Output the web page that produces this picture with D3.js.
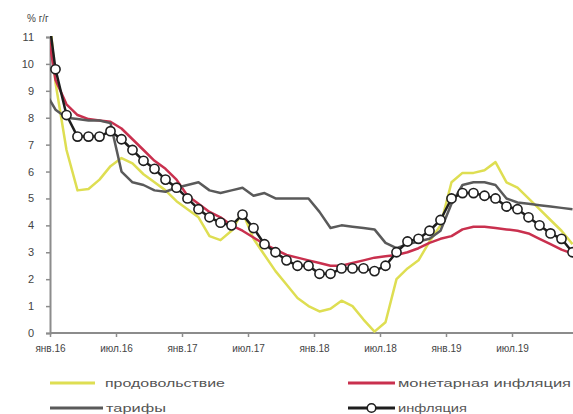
<!DOCTYPE html>
<html><head><meta charset="utf-8">
<script src="https://cdn.jsdelivr.net/npm/d3@7/dist/d3.min.js"></script>
<style>
html,body{margin:0;padding:0;background:#fff;}
svg{display:block;font-family:Arial,"Liberation Sans",sans-serif;}
</style></head>
<body>
<svg id="chart" width="573" height="414"></svg>
<script>
// Months: дек.15 .. дек.19 (first point lies left of the plot and is clipped)
const months = [];
(function(){const n=["янв","фев","мар","апр","май","июн","июл","авг","сен","окт","ноя","дек"];
months.push("дек.15");
for(let y=16;y<=19;y++) for(let m=0;m<12;m++) months.push(n[m]+"."+y);})();

const tickLabels = ["янв.16","июл.16","янв.17","июл.17","янв.18","июл.18","янв.19","июл.19"];
const yTicks = [0,1,2,3,4,5,6,7,8,9,10,11];

const food = [14.0,
 9.3,6.8,5.3,5.35,5.7,6.2,6.5,6.3,5.9,5.6,5.3,4.9,
 4.6,4.3,3.6,3.45,3.8,4.5,3.5,2.9,2.3,1.8,1.3,1.0,
 0.8,0.9,1.2,1.0,0.5,0.05,0.4,2.0,2.4,2.7,3.4,4.0,
 5.6,5.95,5.95,6.05,6.35,5.6,5.4,5.0,4.6,4.2,3.8,3.3];
const monetary = [12.0,
 9.4,8.5,8.1,7.95,7.9,7.85,7.6,7.2,6.8,6.4,6.1,5.7,
 5.1,4.8,4.5,4.3,4.0,3.8,3.55,3.3,3.1,2.9,2.8,2.7,
 2.6,2.5,2.5,2.6,2.7,2.8,2.85,2.9,3.0,3.15,3.35,3.5,
 3.6,3.85,3.95,3.95,3.9,3.85,3.8,3.7,3.5,3.3,3.1,2.95];
const tariffs = [9.0,
 8.3,8.0,7.95,7.9,7.9,7.8,6.0,5.6,5.5,5.3,5.25,5.4,
 5.5,5.6,5.3,5.2,5.3,5.4,5.1,5.2,5.0,5.0,5.0,5.0,
 4.5,3.9,4.0,3.95,3.9,3.85,3.35,3.15,3.3,3.4,3.5,3.8,
 4.8,5.5,5.6,5.6,5.5,5.0,4.85,4.8,4.75,4.7,4.65,4.6];
const inflation = [12.9,
 9.8,8.1,7.3,7.3,7.3,7.5,7.2,6.8,6.4,6.1,5.7,5.4,
 5.0,4.6,4.3,4.1,4.0,4.4,3.9,3.3,3.0,2.7,2.5,2.5,
 2.2,2.2,2.4,2.4,2.4,2.3,2.5,3.0,3.4,3.5,3.8,4.2,
 5.0,5.2,5.2,5.1,5.0,4.7,4.6,4.3,4.0,3.7,3.5,3.0];

const seriesNames = ["продовольствие","монетарная инфляция","тарифы","инфляция"];
const colors = {food:"#dede52", monetary:"#c9304e", tariffs:"#5a5a5a", inflation:"#1e1e1e"};

const svg = d3.select("#chart");
const plot = {left:50, right:573, top:37, bottom:333};

// month index: дек.15 = -1, янв.16 = 0 ... ; points at mid-month
const x = d3.scaleLinear().domain([0,48]).range([plot.left, plot.left+48*11]);
const y = d3.scaleLinear().domain([0,11]).range([plot.bottom, plot.top]);
const xi = i => x(i - 1 + 0.5);

svg.append("defs").append("clipPath").attr("id","clip")
  .append("rect").attr("x",plot.left).attr("y",plot.top-1)
  .attr("width",plot.right-plot.left).attr("height",plot.bottom-plot.top+1);

// Axes
const yAxis = d3.axisLeft(y).tickValues(yTicks).tickSize(4).tickPadding(12);
const gy = svg.append("g").attr("transform",`translate(${plot.left},0)`).call(yAxis);
gy.select(".domain").attr("stroke","#8c8c8c").attr("stroke-width",2);
gy.selectAll(".tick line").attr("stroke","#8c8c8c").attr("stroke-width",1.5);
gy.selectAll(".tick text").attr("font-size",11).attr("fill","#444").attr("font-family","Arial, sans-serif");

const xAxis = d3.axisBottom(x).tickValues(d3.range(0,48,6))
  .tickFormat((d,i)=>tickLabels[i]).tickSize(4).tickSizeOuter(0).tickPadding(8);
const gx = svg.append("g").attr("transform",`translate(0,${plot.bottom})`).call(xAxis);
gx.select(".domain").attr("stroke","#8c8c8c").attr("stroke-width",2)
  .attr("d",`M${plot.left},0H${plot.right}`);
gx.selectAll(".tick line").attr("stroke","#8c8c8c").attr("stroke-width",1.5);
gx.selectAll(".tick text").attr("font-size",10).attr("fill","#444").attr("font-family","Arial, sans-serif");

svg.append("text").attr("x",27).attr("y",22).attr("font-size",10).attr("fill","#444")
  .text("% г/г");

// Lines
const line = d3.line().x((d,i)=>xi(i)).y(d=>y(d));
const g = svg.append("g").attr("clip-path","url(#clip)");
const drawLine = (data,color,w)=> g.append("path").datum(data)
  .attr("fill","none").attr("stroke",color).attr("stroke-width",w)
  .attr("stroke-linejoin","round").attr("d",line);
drawLine(food,colors.food,2.5);
drawLine(monetary,colors.monetary,2.5);
drawLine(tariffs,colors.tariffs,2.5);
drawLine(inflation,colors.inflation,2.5);
g.selectAll("circle.inf").data(inflation).join("circle").attr("class","inf")
  .attr("cx",(d,i)=>xi(i)).attr("cy",d=>y(d)).attr("r",4.6)
  .attr("fill","#fff").attr("stroke",colors.inflation).attr("stroke-width",1.6);

// Legend
const legend = [
  {name:seriesNames[0], color:colors.food, x1:50, x2:95, tx:105, y:383, w:120},
  {name:seriesNames[1], color:colors.monetary, x1:348, x2:395, tx:398, y:383, w:173},
  {name:seriesNames[2], color:colors.tariffs, x1:50, x2:103, tx:106, y:408, w:60},
  {name:seriesNames[3], color:colors.inflation, x1:348, x2:395, tx:398, y:408, w:69, marker:true}
];
const lg = svg.append("g");
legend.forEach(l=>{
  lg.append("line").attr("x1",l.x1).attr("x2",l.x2).attr("y1",l.y).attr("y2",l.y)
    .attr("stroke",l.color).attr("stroke-width",3);
  if(l.marker) lg.append("circle").attr("cx",(l.x1+l.x2)/2).attr("cy",l.y).attr("r",4.3)
    .attr("fill","#fff").attr("stroke",l.color).attr("stroke-width",1.6);
  lg.append("text").attr("x",l.tx).attr("y",l.y+4).attr("font-size",11).attr("fill","#555")
    .attr("textLength",l.w).attr("lengthAdjust","spacingAndGlyphs").text(l.name);
});
</script>
</body></html>
